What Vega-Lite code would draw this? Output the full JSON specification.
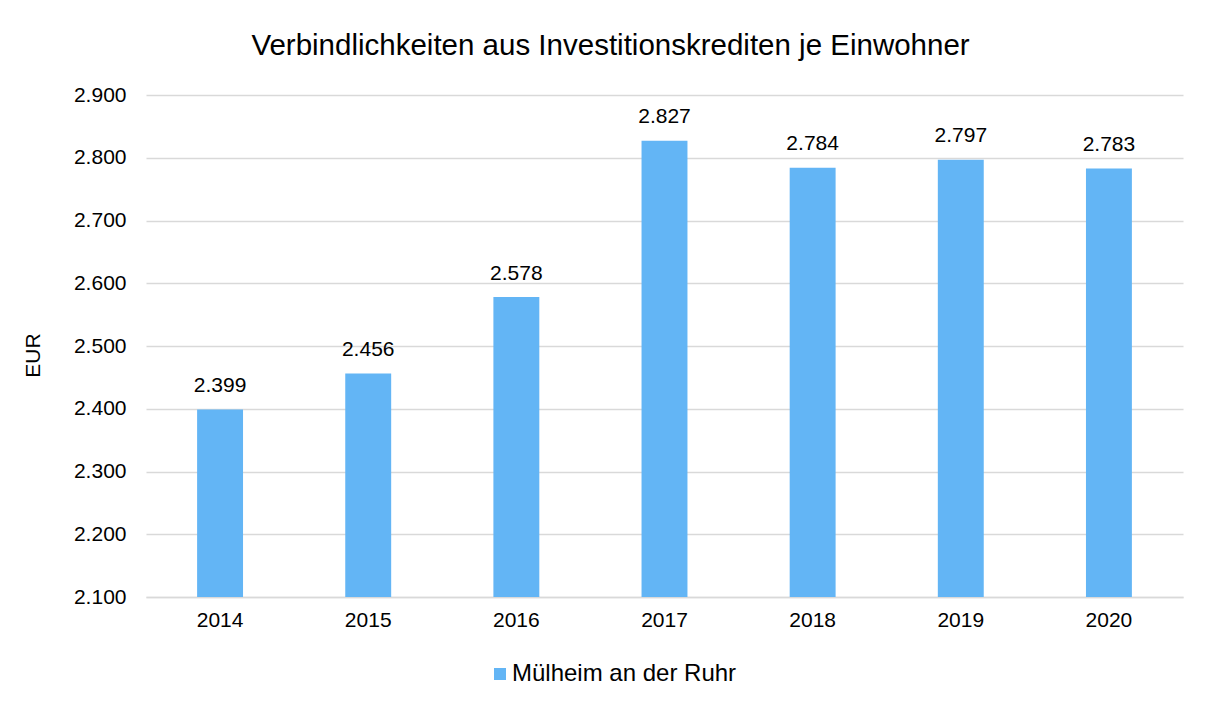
{
  "$schema": "https://vega.github.io/schema/vega-lite/v6.json",
  "autosize": {"type": "none"},
  "width": 1037,
  "height": 502,
  "padding": {"left": 146, "top": 95, "right": 27, "bottom": 105},
  "background": "white",
  "config": {
    "font": "Liberation Sans",
    "locale": {"number": {"decimal": ",", "thousands": ".", "grouping": [3], "currency": ["", " €"]}},
    "view": {"stroke": null},
    "axis": {"labelFont": "Liberation Sans", "titleFont": "Liberation Sans", "labelColor": "#000000", "titleColor": "#000000"}
  },
  "title": {
    "text": "Verbindlichkeiten aus Investitionskrediten je Einwohner",
    "fontSize": 29.5,
    "fontWeight": "normal",
    "color": "#000000",
    "anchor": "middle",
    "dx": -54,
    "offset": 23
  },
  "data": {
    "values": [
      {"Jahr": "2014", "Wert": 2399, "Serie": "Mülheim an der Ruhr"},
      {"Jahr": "2015", "Wert": 2456, "Serie": "Mülheim an der Ruhr"},
      {"Jahr": "2016", "Wert": 2578, "Serie": "Mülheim an der Ruhr"},
      {"Jahr": "2017", "Wert": 2827, "Serie": "Mülheim an der Ruhr"},
      {"Jahr": "2018", "Wert": 2784, "Serie": "Mülheim an der Ruhr"},
      {"Jahr": "2019", "Wert": 2797, "Serie": "Mülheim an der Ruhr"},
      {"Jahr": "2020", "Wert": 2783, "Serie": "Mülheim an der Ruhr"}
    ]
  },
  "encoding": {
    "x": {
      "field": "Jahr",
      "type": "ordinal",
      "scale": {"paddingInner": 0.69, "paddingOuter": 0.345},
      "axis": {
        "title": null,
        "labelAngle": 0,
        "labelFontSize": 21,
        "labelPadding": 12,
        "ticks": false,
        "domain": true,
        "domainColor": "#D9D9D9",
        "domainWidth": 1.5
      }
    },
    "y": {
      "field": "Wert",
      "type": "quantitative",
      "scale": {"domain": [2100, 2900], "nice": false, "zero": false},
      "axis": {
        "title": "EUR",
        "titleFontSize": 21,
        "titleFontWeight": "normal",
        "titleX": -113,
        "titleY": 260,
        "titleAngle": -90,
        "titleBaseline": "middle",
        "values": [2100, 2200, 2300, 2400, 2500, 2600, 2700, 2800, 2900],
        "format": ",.0f",
        "labelFontSize": 21,
        "labelPadding": 20,
        "ticks": false,
        "domain": false,
        "gridColor": "#D9D9D9",
        "gridWidth": 1.5
      }
    }
  },
  "layer": [
    {
      "mark": {"type": "bar", "clip": true},
      "encoding": {
        "y2": {"datum": 2100},
        "color": {
          "field": "Serie",
          "type": "nominal",
          "scale": {"range": ["#63B5F5"]},
          "legend": {
            "title": null,
            "orient": "none",
            "legendX": 342,
            "legendY": 567,
            "symbolType": "square",
            "symbolSize": 144,
            "symbolStrokeWidth": 0,
            "labelFontSize": 24,
            "labelLimit": 500,
            "labelColor": "#000000",
            "labelFont": "Liberation Sans",
            "labelOffset": 0
          }
        }
      }
    },
    {
      "mark": {"type": "text", "dy": -23.5, "fontSize": 21, "color": "#000000", "font": "Liberation Sans"},
      "encoding": {
        "text": {"field": "Wert", "type": "quantitative", "format": ",.0f"}
      }
    }
  ]
}
